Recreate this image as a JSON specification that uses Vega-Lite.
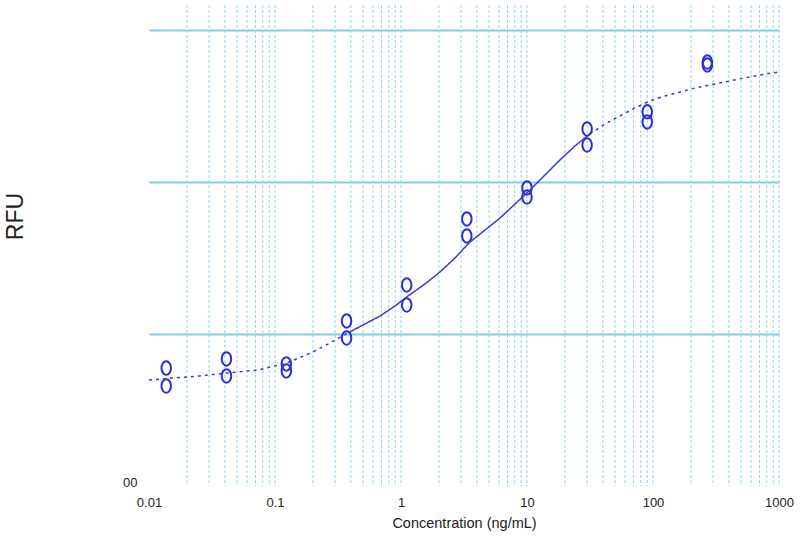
{
  "$schema": "https://vega.github.io/schema/vega-lite/v6.json",
  "width": 630,
  "height": 481,
  "autosize": {"type": "none"},
  "padding": {"left": 149, "top": 5, "right": 21, "bottom": 60},
  "background": "white",
  "config": {"view": {"stroke": null}, "font": "Liberation Sans"},
  "datasets": {
    "gridx": [
      {"conc": 0.02}, {"conc": 0.03}, {"conc": 0.04}, {"conc": 0.05}, {"conc": 0.06}, {"conc": 0.07}, {"conc": 0.08}, {"conc": 0.09},
      {"conc": 0.1}, {"conc": 0.2}, {"conc": 0.3}, {"conc": 0.4}, {"conc": 0.5}, {"conc": 0.6}, {"conc": 0.7}, {"conc": 0.8}, {"conc": 0.9},
      {"conc": 1}, {"conc": 2}, {"conc": 3}, {"conc": 4}, {"conc": 5}, {"conc": 6}, {"conc": 7}, {"conc": 8}, {"conc": 9},
      {"conc": 10}, {"conc": 20}, {"conc": 30}, {"conc": 40}, {"conc": 50}, {"conc": 60}, {"conc": 70}, {"conc": 80}, {"conc": 90},
      {"conc": 100}, {"conc": 200}, {"conc": 300}, {"conc": 400}, {"conc": 500}, {"conc": 600}, {"conc": 700}, {"conc": 800}, {"conc": 900},
      {"conc": 1000}
    ],
    "points": [
      {"conc": 0.0137, "rfu": 0.776}, {"conc": 0.0137, "rfu": 0.658},
      {"conc": 0.0412, "rfu": 0.836}, {"conc": 0.0412, "rfu": 0.724},
      {"conc": 0.123, "rfu": 0.803}, {"conc": 0.123, "rfu": 0.757},
      {"conc": 0.37, "rfu": 1.086}, {"conc": 0.37, "rfu": 0.974},
      {"conc": 1.11, "rfu": 1.322}, {"conc": 1.11, "rfu": 1.191},
      {"conc": 3.33, "rfu": 1.757}, {"conc": 3.33, "rfu": 1.645},
      {"conc": 10, "rfu": 1.961}, {"conc": 10, "rfu": 1.901},
      {"conc": 30, "rfu": 2.349}, {"conc": 30, "rfu": 2.243},
      {"conc": 90, "rfu": 2.461}, {"conc": 90, "rfu": 2.395},
      {"conc": 270, "rfu": 2.789}, {"conc": 270, "rfu": 2.77}
    ],
    "curve": [
      {"conc": 0.01, "rfu": 0.697, "part": "a", "style": "extrap"},
      {"conc": 0.01607, "rfu": 0.711, "part": "a", "style": "extrap"},
      {"conc": 0.02541, "rfu": 0.724, "part": "a", "style": "extrap"},
      {"conc": 0.04159, "rfu": 0.743, "part": "a", "style": "extrap"},
      {"conc": 0.07328, "rfu": 0.763, "part": "a", "style": "extrap"},
      {"conc": 0.1245, "rfu": 0.809, "part": "a", "style": "extrap"},
      {"conc": 0.2003, "rfu": 0.882, "part": "a", "style": "extrap"},
      {"conc": 0.2735, "rfu": 0.941, "part": "a", "style": "extrap"},
      {"conc": 0.3793, "rfu": 1.007, "part": "a", "style": "extrap"},
      {"conc": 0.3793, "rfu": 1.007, "part": "b", "style": "fit"},
      {"conc": 0.5176, "rfu": 1.066, "part": "b", "style": "fit"},
      {"conc": 0.6808, "rfu": 1.118, "part": "b", "style": "fit"},
      {"conc": 0.8954, "rfu": 1.184, "part": "b", "style": "fit"},
      {"conc": 1.137, "rfu": 1.25, "part": "b", "style": "fit"},
      {"conc": 1.549, "rfu": 1.329, "part": "b", "style": "fit"},
      {"conc": 2.04, "rfu": 1.408, "part": "b", "style": "fit"},
      {"conc": 2.683, "rfu": 1.5, "part": "b", "style": "fit"},
      {"conc": 3.465, "rfu": 1.599, "part": "b", "style": "fit"},
      {"conc": 4.645, "rfu": 1.684, "part": "b", "style": "fit"},
      {"conc": 6.109, "rfu": 1.763, "part": "b", "style": "fit"},
      {"conc": 8.035, "rfu": 1.855, "part": "b", "style": "fit"},
      {"conc": 10.37, "rfu": 1.941, "part": "b", "style": "fit"},
      {"conc": 13.9, "rfu": 2.046, "part": "b", "style": "fit"},
      {"conc": 18.28, "rfu": 2.145, "part": "b", "style": "fit"},
      {"conc": 24.04, "rfu": 2.237, "part": "b", "style": "fit"},
      {"conc": 31.62, "rfu": 2.316, "part": "b", "style": "fit"},
      {"conc": 31.62, "rfu": 2.316, "part": "c", "style": "extrap"},
      {"conc": 41.59, "rfu": 2.382, "part": "c", "style": "extrap"},
      {"conc": 54.7, "rfu": 2.434, "part": "c", "style": "extrap"},
      {"conc": 71.95, "rfu": 2.487, "part": "c", "style": "extrap"},
      {"conc": 94.6, "rfu": 2.533, "part": "c", "style": "extrap"},
      {"conc": 124.5, "rfu": 2.566, "part": "c", "style": "extrap"},
      {"conc": 163.7, "rfu": 2.592, "part": "c", "style": "extrap"},
      {"conc": 215.3, "rfu": 2.618, "part": "c", "style": "extrap"},
      {"conc": 283.2, "rfu": 2.638, "part": "c", "style": "extrap"},
      {"conc": 372.5, "rfu": 2.658, "part": "c", "style": "extrap"},
      {"conc": 490, "rfu": 2.678, "part": "c", "style": "extrap"},
      {"conc": 645, "rfu": 2.697, "part": "c", "style": "extrap"},
      {"conc": 880, "rfu": 2.717, "part": "c", "style": "extrap"},
      {"conc": 1000, "rfu": 2.724, "part": "c", "style": "extrap"}
    ]
  },
  "encoding": {
    "x": {
      "field": "conc",
      "type": "quantitative",
      "scale": {"type": "log", "domain": [0.01, 1000], "nice": false},
      "axis": {
        "values": [0.01, 0.1, 1, 10, 100, 1000],
        "grid": false,
        "domain": false,
        "ticks": false,
        "labelExpr": "format(datum.value, '~g')",
        "labelOverlap": false,
        "labelFlush": false,
        "labelFontSize": 13,
        "labelColor": "#222222",
        "labelPadding": 10,
        "title": "Concentration (ng/mL)",
        "titleFontSize": 14.5,
        "titleFontWeight": "normal",
        "titleColor": "#222222",
        "titleY": 37,
        "titleBaseline": "middle"
      }
    }
  },
  "layer": [
    {
      "data": {"name": "gridx"},
      "mark": {"type": "rule", "color": "#8fd6f0", "strokeWidth": 1, "strokeDash": [3, 2]}
    },
    {
      "data": {"name": "points"},
      "mark": {
        "type": "point",
        "shape": "M0,-1.35A0.95,1.35 0 1,1 0,1.35A0.95,1.35 0 1,1 0,-1.35Z",
        "size": 100,
        "strokeWidth": 2,
        "color": "#2e2ed6",
        "filled": false,
        "opacity": 1
      },
      "encoding": {
        "y": {
          "field": "rfu",
          "type": "quantitative",
          "scale": {"domain": [0, 3.164], "nice": false, "zero": false},
          "axis": {
            "values": [0, 1, 2, 3],
            "grid": true,
            "gridColor": {"condition": {"test": "datum.value == 0", "value": "rgba(255,255,255,0)"}, "value": "#84cfe9"},
            "gridWidth": 2,
            "domain": false,
            "ticks": false,
            "labelExpr": "datum.value == 0 ? '00' : ''",
            "labelFlush": false,
            "labelFontSize": 13,
            "labelColor": "#222222",
            "labelPadding": 12,
            "labelOffset": -4,
            "title": "RFU",
            "titleFontSize": 23,
            "titleFontWeight": "normal",
            "titleColor": "#222222",
            "titleAngle": -90,
            "titleX": -134,
            "titleY": 211,
            "titleAlign": "center",
            "titleBaseline": "middle"
          }
        }
      }
    },
    {
      "data": {"name": "curve"},
      "mark": {"type": "line", "color": "#3a3ad0", "strokeWidth": 1.5},
      "encoding": {
        "y": {"field": "rfu", "type": "quantitative"},
        "detail": {"field": "part", "type": "nominal"},
        "strokeDash": {
          "field": "style",
          "type": "nominal",
          "scale": {"domain": ["fit", "extrap"], "range": [[1, 0], [3, 4]]},
          "legend": null
        }
      }
    }
  ]
}
